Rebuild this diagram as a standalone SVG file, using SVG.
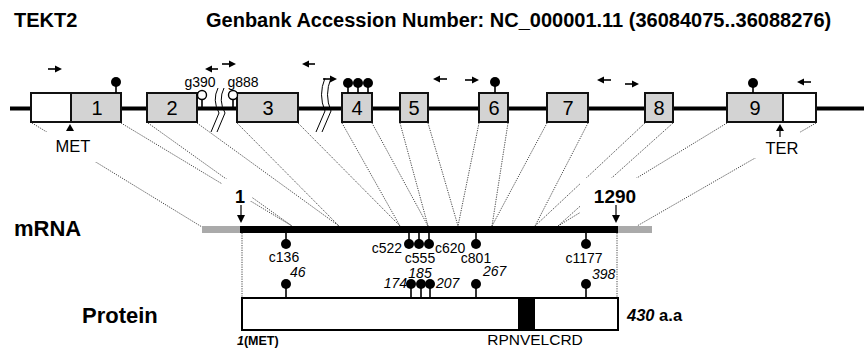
<svg xmlns="http://www.w3.org/2000/svg" width="864" height="348" viewBox="0 0 864 348">
<style>
text{font-family:"Liberation Sans",Arial,sans-serif;fill:#000}
.b{font-weight:bold}
.it{font-style:italic}
.exon{fill:#d3d3d3;stroke:#111;stroke-width:2}
.utr{fill:#fff;stroke:#111;stroke-width:2}
.num{font-size:20px;text-anchor:middle}
.dot{stroke:#333;stroke-width:0.9;stroke-dasharray:1.2 1.2;fill:none}
.stem{stroke:#000;stroke-width:1.6}
.lol{fill:#000}
.open{fill:#fff;stroke:#000;stroke-width:1.4}
.brk{fill:none;stroke:#000;stroke-width:1}
.pr{stroke:#000;stroke-width:1.6}
.lab{font-size:14px}
.pl{font-size:14px;font-style:italic}
.bg{fill:#fff}
</style>

<g id="title">
<text class="b" x="14" y="27" font-size="20">TEKT2</text>
<text class="b" x="206" y="27" font-size="20">Genbank Accession Number: NC_000001.11 (36084075..36088276)</text>
</g>

<g id="connectors">
<line class="dot" x1="32" y1="123" x2="202" y2="227"/>
<line class="dot" x1="121" y1="123" x2="292" y2="226"/>
<line class="dot" x1="148" y1="123" x2="292" y2="226"/>
<line class="dot" x1="197" y1="123" x2="339" y2="226"/>
<line class="dot" x1="237" y1="123" x2="339" y2="226"/>
<line class="dot" x1="298" y1="123" x2="400" y2="226"/>
<line class="dot" x1="342" y1="123" x2="400" y2="226"/>
<line class="dot" x1="372" y1="123" x2="428" y2="226"/>
<line class="dot" x1="400" y1="123" x2="428" y2="226"/>
<line class="dot" x1="428" y1="123" x2="458" y2="226"/>
<line class="dot" x1="479" y1="123" x2="458" y2="226"/>
<line class="dot" x1="508" y1="123" x2="492" y2="226"/>
<line class="dot" x1="547" y1="123" x2="492" y2="226"/>
<line class="dot" x1="588" y1="123" x2="535" y2="226"/>
<line class="dot" x1="645" y1="123" x2="535" y2="226"/>
<line class="dot" x1="673" y1="123" x2="558" y2="226"/>
<line class="dot" x1="727" y1="123" x2="558" y2="226"/>
<line class="dot" x1="816" y1="123" x2="637" y2="226"/>
<line class="dot" x1="242" y1="233" x2="242" y2="298"/>
<line class="dot" x1="617" y1="233" x2="617" y2="298"/>
</g>

<g id="label-gaps">
<rect class="bg" x="46" y="132" width="54" height="30"/>
<rect class="bg" x="754" y="132" width="46" height="26"/>
<rect class="bg" x="222" y="179" width="30" height="22"/>
<rect class="bg" x="580" y="178" width="70" height="36"/>
</g>

<g id="gene-line">
<rect x="10" y="106.5" width="854" height="4" fill="#000"/>
<path class="brk" d="M211,132 L219,113 Q212,100 218,88"/>
<path class="brk" d="M217,132 L225,113 Q218,100 224,88"/>
<path class="brk" d="M316,132 L325,111 Q318,95 325,78"/>
<path class="brk" d="M322,132 L331,111 Q324,95 331,78"/>
</g>

<g id="exon1">
<rect class="utr" x="31" y="93" width="40" height="29"/>
<rect class="exon" x="71" y="93" width="50" height="29"/>
<text class="num" x="97" y="115">1</text>
</g>
<g id="exon2">
<rect class="exon" x="147" y="93" width="50" height="29"/>
<text class="num" x="172" y="115">2</text>
</g>
<g id="exon3">
<rect class="exon" x="237" y="93" width="61" height="29"/>
<text class="num" x="268" y="115">3</text>
</g>
<g id="exon4">
<rect class="exon" x="342" y="93" width="30" height="29"/>
<text class="num" x="357" y="115">4</text>
</g>
<g id="exon5">
<rect class="exon" x="400" y="93" width="28" height="29"/>
<text class="num" x="414" y="115">5</text>
</g>
<g id="exon6">
<rect class="exon" x="479" y="93" width="29" height="29"/>
<text class="num" x="494" y="115">6</text>
</g>
<g id="exon7">
<rect class="exon" x="547" y="93" width="41" height="29"/>
<text class="num" x="568" y="115">7</text>
</g>
<g id="exon8">
<rect class="exon" x="645" y="93" width="28" height="29"/>
<text class="num" x="659" y="115">8</text>
</g>
<g id="exon9">
<rect class="exon" x="727" y="93" width="56" height="29"/>
<rect class="utr" x="783" y="93" width="33" height="29"/>
<text class="num" x="755" y="115">9</text>
</g>

<g id="primers">
<line class="pr" x1="48" y1="69" x2="56" y2="69"/><polygon points="62,69 55,65.5 55,72.5"/>
<line class="pr" x1="210" y1="69" x2="218" y2="69"/><polygon points="205,69 212,65.5 212,72.5"/>
<line class="pr" x1="222" y1="64" x2="230" y2="64"/><polygon points="236,64 229,60.5 229,67.5"/>
<line class="pr" x1="307" y1="64" x2="315" y2="64"/><polygon points="302,64 309,60.5 309,67.5"/>
<line class="pr" x1="323" y1="79" x2="331" y2="79"/><polygon points="337,79 330,75.5 330,82.5"/>
<line class="pr" x1="438" y1="79" x2="447" y2="79"/><polygon points="433,79 440,75.5 440,82.5"/>
<line class="pr" x1="465" y1="80" x2="473" y2="80"/><polygon points="479,80 472,76.5 472,83.5"/>
<line class="pr" x1="602" y1="80" x2="611" y2="80"/><polygon points="597,80 604,76.5 604,83.5"/>
<line class="pr" x1="625" y1="84" x2="633" y2="84"/><polygon points="639,84 632,80.5 632,87.5"/>
<line class="pr" x1="802" y1="82" x2="811" y2="82"/><polygon points="797,82 804,78.5 804,85.5"/>
</g>

<g id="gvar">
<line class="stem" x1="116" y1="82" x2="116" y2="93"/><circle class="lol" cx="116" cy="82" r="5"/>
<line class="stem" x1="348" y1="83" x2="348" y2="93"/><circle class="lol" cx="348" cy="83" r="5"/>
<line class="stem" x1="358" y1="83" x2="358" y2="93"/><circle class="lol" cx="358" cy="83" r="5"/>
<line class="stem" x1="368" y1="83" x2="368" y2="93"/><circle class="lol" cx="368" cy="83" r="5"/>
<line class="stem" x1="495" y1="82" x2="495" y2="93"/><circle class="lol" cx="495" cy="82" r="5"/>
<line class="stem" x1="753" y1="83" x2="753" y2="93"/><circle class="lol" cx="753" cy="83" r="5"/>
<line class="stem" x1="202" y1="99" x2="202" y2="107" stroke-width="2"/><circle class="open" cx="202" cy="95" r="4.5"/>
<line class="stem" x1="233" y1="99" x2="233" y2="107" stroke-width="2"/><circle class="open" cx="233" cy="95" r="4.5"/>
<text x="200" y="87" font-size="14" text-anchor="middle">g390</text>
<text x="243" y="87" font-size="14" text-anchor="middle">g888</text>
</g>

<g id="met">
<polygon points="70,124 66,131 74,131"/>
<text x="73" y="152" font-size="16.5" text-anchor="middle">MET</text>
</g>
<g id="ter">
<line x1="780" y1="137" x2="780" y2="128" stroke="#000" stroke-width="1.2"/>
<polygon points="780,124 776,131 784,131"/>
<text x="782" y="154" font-size="16.5" text-anchor="middle">TER</text>
</g>

<g id="mrna">
<text class="b" x="14" y="236" font-size="22">mRNA</text>
<rect x="202" y="226" width="38" height="7" fill="#aaa"/>
<rect x="240" y="226" width="378" height="7" fill="#000"/>
<rect x="618" y="226" width="34" height="7" fill="#aaa"/>
<text class="b" x="240" y="203" font-size="18" text-anchor="middle">1</text>
<line x1="241" y1="205" x2="241" y2="217" stroke="#000" stroke-width="1.2"/>
<polygon points="241,223 237,215 245,215"/>
<text class="b" x="615" y="203" font-size="19" text-anchor="middle">1290</text>
<line x1="616" y1="205" x2="616" y2="217" stroke="#000" stroke-width="1.2"/>
<polygon points="616,223 612,215 620,215"/>
</g>

<g id="mvar">
<line class="stem" x1="286" y1="233" x2="286" y2="244"/><circle class="lol" cx="286" cy="244" r="5"/>
<line class="stem" x1="409" y1="233" x2="409" y2="244"/><circle class="lol" cx="409" cy="244" r="5"/>
<line class="stem" x1="419" y1="233" x2="419" y2="244"/><circle class="lol" cx="419" cy="244" r="5"/>
<line class="stem" x1="429" y1="233" x2="429" y2="244"/><circle class="lol" cx="429" cy="244" r="5"/>
<line class="stem" x1="476" y1="233" x2="476" y2="244"/><circle class="lol" cx="476" cy="244" r="5"/>
<line class="stem" x1="586" y1="233" x2="586" y2="244"/><circle class="lol" cx="586" cy="244" r="5"/>
<text class="lab" x="284" y="262" text-anchor="middle">c136</text>
<text class="lab" x="402" y="253" text-anchor="end">c522</text>
<text class="lab" x="420" y="263" text-anchor="middle">c555</text>
<text class="lab" x="435" y="253">c620</text>
<text class="lab" x="476" y="263" text-anchor="middle">c801</text>
<text class="lab" x="584" y="263" text-anchor="middle">c1177</text>
</g>

<g id="protein">
<text class="b" x="82" y="323" font-size="22">Protein</text>
<rect x="242" y="298" width="376" height="32" fill="#fff" stroke="#000" stroke-width="2"/>
<rect x="518" y="298" width="17" height="32" fill="#000"/>
<text class="b" x="237" y="345" font-size="12.5"><tspan class="it">1</tspan>(MET)</text>
<text class="b" x="627" y="321" font-size="16.5"><tspan class="it">430</tspan> a.a</text>
<text x="535" y="345" font-size="15.5" text-anchor="middle">RPNVELCRD</text>
</g>

<g id="pvar">
<line class="stem" x1="286" y1="284" x2="286" y2="298"/><circle class="lol" cx="286" cy="284" r="5"/>
<line class="stem" x1="411" y1="284" x2="411" y2="298"/><circle class="lol" cx="411" cy="284" r="5"/>
<line class="stem" x1="421" y1="284" x2="421" y2="298"/><circle class="lol" cx="421" cy="284" r="5"/>
<line class="stem" x1="430" y1="284" x2="430" y2="298"/><circle class="lol" cx="430" cy="284" r="5"/>
<line class="stem" x1="476" y1="284" x2="476" y2="298"/><circle class="lol" cx="476" cy="284" r="5"/>
<line class="stem" x1="586" y1="284" x2="586" y2="298"/><circle class="lol" cx="586" cy="284" r="5"/>
<text class="pl" x="290" y="277">46</text>
<text class="pl" x="407" y="288" text-anchor="end">174</text>
<text class="pl" x="420" y="278" text-anchor="middle">185</text>
<text class="pl" x="436" y="288">207</text>
<text class="pl" x="483" y="276">267</text>
<text class="pl" x="592" y="279">398</text>
</g>
</svg>
